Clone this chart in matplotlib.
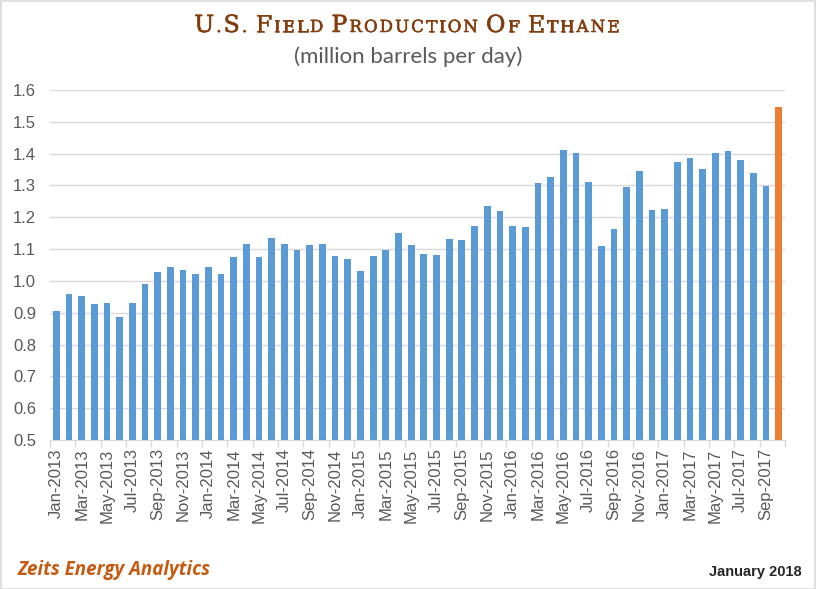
import matplotlib
matplotlib.use('Agg')
import matplotlib.pyplot as plt
import matplotlib.patheffects as pe
from matplotlib.patches import Rectangle
import pandas as pd

# Datos: produccion de etano en EE.UU. (millones de barriles por dia)
months = list(pd.date_range('2013-01-01', periods=58, freq='MS').strftime('%b-%Y'))
values = [0.906, 0.959, 0.953, 0.927, 0.931, 0.888, 0.931, 0.990, 1.028, 1.044,
          1.034, 1.022, 1.044, 1.022, 1.075, 1.116, 1.075, 1.135, 1.116, 1.097,
          1.113, 1.116, 1.078, 1.069, 1.031, 1.078, 1.097, 1.151, 1.113, 1.085,
          1.081, 1.132, 1.129, 1.173, 1.235, 1.220, 1.173, 1.169, 1.308, 1.327,
          1.411, 1.402, 1.311, 1.110, 1.163, 1.295, 1.345, 1.223, 1.226, 1.374,
          1.386, 1.352, 1.402, 1.408, 1.380, 1.339, 1.298, 1.547]
yticks = [0.5, 0.6, 0.7, 0.8, 0.9, 1.0, 1.1, 1.2, 1.3, 1.4, 1.5, 1.6]

title = 'U.S. Field Production Of Ethane'
subtitle = '(million barrels per day)'
source = 'Zeits Energy Analytics'
date_note = 'January 2018'

blue = '#5B9BD5'
orange = '#ED7D31'
grid_col = '#D9D9D9'
tick_col = '#595959'
title_col = '#843C0C'

W, H = 816, 589
fig = plt.figure(figsize=(W / 100, H / 100), dpi=100)
ax = fig.add_axes([50 / W, 1 - 440 / H, 735 / W, 350 / H])

x = list(range(len(values)))
colors = [blue] * (len(values) - 1) + [orange]
ax.bar(x, [v - 0.5 for v in values], bottom=0.5, width=0.53, color=colors, zorder=3)

ax.set_xlim(-0.5, len(values) - 0.5)
ax.set_ylim(0.5, 1.6)
ax.set_yticks(yticks)
ax.set_yticklabels([f'{t:.1f}' for t in yticks])
ax.grid(axis='y', color=grid_col, linewidth=1, zorder=0)

# etiquetas cada dos meses, marcas entre categorias
ax.set_xticks(x[::2])
ax.set_xticklabels(months[::2], rotation=90)
ax.set_xticks([i - 0.5 for i in range(0, len(values) + 1, 2)], minor=True)
ax.tick_params(axis='x', which='major', length=0, pad=6, labelsize=12, labelcolor=tick_col)
ax.tick_params(axis='x', which='minor', length=5, color=grid_col, width=1)
ax.tick_params(axis='y', length=0, pad=10, labelsize=12, labelcolor=tick_col)
for lab in ax.get_xticklabels() + ax.get_yticklabels():
    lab.set_family('Liberation Sans')

for s in ['top', 'right', 'left']:
    ax.spines[s].set_visible(False)
ax.spines['bottom'].set_color(grid_col)

# titulo en versalitas: mayusculas grandes, minusculas como mayusculas pequenas,
# letra por letra
renderer = fig.canvas.get_renderer()
big, small = 17, 12
tracking = 2.1
space_w = 6
thick = [pe.withStroke(linewidth=0.4, foreground=title_col)]

arts = []
total = 0
for ch in title:
    if ch == ' ':
        arts.append((None, space_w))
        total += space_w
        continue
    size = big if ch.isupper() else small
    t = fig.text(0, 0, ch.upper(), fontsize=size, family='DejaVu Serif',
                 color=title_col, va='baseline', ha='left', path_effects=thick)
    w = t.get_window_extent(renderer).width + tracking
    arts.append((t, w))
    total += w
xpos = 408 - total / 2
for t, w in arts:
    if t is not None:
        t.set_position((xpos / W, 1 - 32 / H))
    xpos += w

fig.text(408 / W, 1 - 57 / H, subtitle, fontsize=16, family='Lato', color=tick_col,
         ha='center', va='center')
fig.text(18 / W, 1 - 570 / H, source, fontsize=13.5, family='Open Sans', weight='bold',
         style='italic', color='#C55A11', ha='left', va='center')
fig.text(802 / W, 1 - 572 / H, date_note, fontsize=10.5, family='Liberation Sans',
         weight='bold', color='#262626', ha='right', va='center')

fig.add_artist(Rectangle((0.5 / W, 0.5 / H), 1 - 1.5 / W, 1 - 1.5 / H, transform=fig.transFigure,
                         fill=False, edgecolor=grid_col, linewidth=1.2))

plt.savefig('out.png', dpi=100)
